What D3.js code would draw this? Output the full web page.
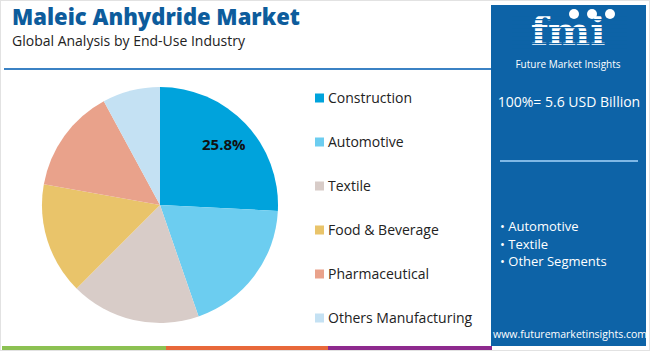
<!DOCTYPE html>
<html>
<head>
<meta charset="utf-8">
<script src="https://cdn.jsdelivr.net/npm/d3@7"></script>
<style>
  body { margin: 0; background: #fff; }
  svg { display: block; font-family: "Open Sans", sans-serif; }
</style>
</head>
<body>
<div id="chart"></div>
<script>
/* Maleic Anhydride Market - pie by end-use industry */

const categories = ["Construction", "Automotive", "Textile", "Food & Beverage", "Pharmaceutical", "Others Manufacturing"];
const shares = [25.8, 18.9, 17.8, 15.3, 14.3, 7.9];
const colors = ["#00a3dc", "#6ccdf0", "#d8ccc8", "#e9c46a", "#e9a28b", "#c4e1f3"];
const bullets = ["Automotive", "Textile", "Other Segments"];
const totalLabel = "100%= 5.6 USD Billion";

const width = 650, height = 351;
const cx = 160, cy = 205, radius = 118;

const data = categories.map((c, i) => ({ name: c, value: shares[i], color: colors[i] }));

const svg = d3.select("#chart")
  .append("svg")
  .attr("width", width)
  .attr("height", height);

// frame
svg.append("rect")
  .attr("x", 0.5).attr("y", 0.5)
  .attr("width", width - 1).attr("height", height - 1)
  .attr("fill", "none").attr("stroke", "#e2e2e2");

// title
svg.append("text")
  .text("Maleic Anhydride Market")
  .attr("x", 12).attr("y", 25)
  .attr("font-size", 22)
  .attr("font-weight", "800")
  .attr("fill", "#0d5c9c");

svg.append("text")
  .text("Global Analysis by End-Use Industry")
  .attr("x", 12).attr("y", 46)
  .attr("font-size", 14)
  .attr("fill", "#222");

svg.append("rect")
  .attr("x", 4).attr("y", 68)
  .attr("width", 488).attr("height", 2)
  .attr("fill", "#3b82c4");

// pie
const arcs = d3.pie().value(d => d.value).sort(null)(data);
const arc = d3.arc().innerRadius(0).outerRadius(radius);
const arcLabel = d3.arc().innerRadius(88).outerRadius(88);

const g = svg.append("g").attr("transform", `translate(${cx},${cy})`);

g.selectAll("path")
  .data(arcs)
  .join("path")
  .attr("fill", d => d.data.color)
  .attr("d", arc);

g.append("text")
  .datum(arcs[0])
  .attr("transform", d => `translate(${arcLabel.centroid(d)})`)
  .attr("text-anchor", "middle")
  .attr("dy", "0.35em")
  .attr("font-size", 15)
  .attr("font-weight", "bold")
  .attr("fill", "#111")
  .text(d => d3.format(".1f")(d.data.value) + "%");

// legend
const legendY = d3.scalePoint().domain(categories).range([98, 318]);

const legend = svg.append("g")
  .selectAll("g")
  .data(data)
  .join("g")
  .attr("transform", d => `translate(315,${legendY(d.name)})`);

legend.append("rect")
  .attr("x", 0).attr("y", -4.5)
  .attr("width", 9).attr("height", 9)
  .attr("fill", d => d.color);

legend.append("text")
  .attr("x", 13).attr("dy", "0.35em")
  .attr("font-size", 14)
  .attr("fill", "#222")
  .text(d => d.name);

// bottom strip
const strip = [["#8cc152", 2, 166], ["#e8683a", 166, 328], ["#8e2a8e", 328, 492]];
svg.selectAll(".strip")
  .data(strip)
  .join("rect")
  .attr("x", d => d[1]).attr("y", 346)
  .attr("width", d => d[2] - d[1]).attr("height", 4)
  .attr("fill", d => d[0]);

// right panel
const panel = svg.append("g");
panel.append("rect")
  .attr("x", 491).attr("y", 5)
  .attr("width", 155).attr("height", 341)
  .attr("fill", "#0d63a7");

// logo
const logo = panel.append("g");
logo.append("text")
  .text("fmi")
  .attr("x", 568).attr("y", 45)
  .attr("text-anchor", "middle")
  .attr("font-family", "DejaVu Serif, serif")
  .attr("font-weight", "bold")
  .attr("font-size", 40)
  .attr("fill", "#fff");
logo.selectAll(".stripe")
  .data(d3.range(15, 48, 4))
  .join("rect")
  .attr("x", 512).attr("y", d => d)
  .attr("width", 115).attr("height", 1.2)
  .attr("fill", "#0d63a7");
logo.selectAll("circle")
  .data([574, 592, 610])
  .join("circle")
  .attr("cx", d => d).attr("cy", 14)
  .attr("r", 5)
  .attr("fill", "#fff");
logo.append("text")
  .text("Future Market Insights")
  .attr("x", 568).attr("y", 68)
  .attr("text-anchor", "middle")
  .attr("font-size", 10)
  .attr("fill", "#fff");

panel.append("text")
  .text(totalLabel)
  .attr("x", 569).attr("y", 107)
  .attr("text-anchor", "middle")
  .attr("font-size", 14)
  .attr("fill", "#fff");

panel.append("rect")
  .attr("x", 500).attr("y", 160)
  .attr("width", 138).attr("height", 2)
  .attr("fill", "#7fb8e6");

panel.selectAll(".bullet")
  .data(bullets)
  .join("text")
  .attr("x", 500)
  .attr("y", (d, i) => 231 + i * 17.5)
  .attr("font-size", 13)
  .attr("fill", "#fff")
  .text(d => "\u2022 " + d);

panel.append("text")
  .text("www.futuremarketinsights.com")
  .attr("x", 570).attr("y", 338)
  .attr("text-anchor", "middle")
  .attr("font-size", 10.5)
  .attr("fill", "#fff");
</script>
</body>
</html>
